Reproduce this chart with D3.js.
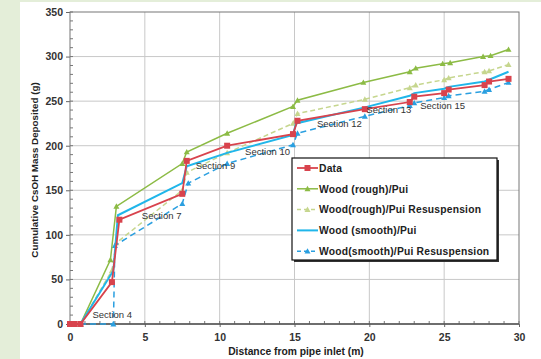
<!DOCTYPE html>
<html><head><meta charset="utf-8">
<script src="https://cdn.jsdelivr.net/npm/d3@7"></script>
<style>
html,body{margin:0;padding:0;background:#e4eed9;}
svg{display:block;}
text{font-family:"Liberation Sans",Arial,sans-serif;}
</style></head>
<body>
<svg id="c" width="541" height="359"></svg>
<script>
// ---- data ----
const distData   = [0, 0.3, 0.7, 2.8, 3.3, 7.5, 7.8, 10.5, 14.9, 15.2, 19.7, 22.7, 23.0, 25.0, 25.3, 27.7, 28.0, 29.3];
const massData   = [0, 0, 0, 47, 117, 146, 183, 200, 213, 228, 241, 249, 255, 259, 263, 268, 272, 275];
const distRough  = [0, 0.3, 0.7, 2.7, 3.1, 7.5, 7.8, 10.5, 14.9, 15.2, 19.6, 22.7, 23.1, 24.9, 25.4, 27.6, 28.1, 29.3];
const massRough  = [0, 0, 0, 72, 132, 180, 193, 214, 244, 251, 271, 283, 287, 292, 293, 300, 301, 308];
const distRoughR = [0, 0.3, 0.7, 2.8, 3.1, 7.5, 7.8, 10.5, 14.9, 15.2, 19.7, 22.7, 23.1, 25.0, 25.3, 27.7, 28.0, 29.3];
const massRoughR = [0, 0, 0, 60, 91, 150, 170, 192, 225, 236, 252, 265, 268, 274, 276, 283, 284, 291];
const distSmooth = [0, 0.3, 0.7, 2.9, 3.2, 7.5, 7.8, 10.5, 14.9, 15.1, 19.7, 22.7, 23.0, 25.0, 25.3, 27.7, 28.0, 29.3];
const massSmooth = [0, 0, 0, 60, 122, 158, 177, 192, 212, 225, 243, 256, 259, 264, 266, 272, 274, 283];
const distSmoothR= [0, 0.3, 0.7, 2.9, 3.0, 7.5, 7.9, 10.5, 14.9, 15.2, 19.7, 22.7, 23.0, 25.0, 25.3, 27.7, 28.0, 29.3];
const massSmoothR= [0, 0, 0, 0, 88, 135, 158, 180, 201, 214, 233, 245, 248, 254, 256, 261, 263, 271];
const seriesNames = ["Data", "Wood (rough)/Pui", "Wood(rough)/Pui Resuspension", "Wood (smooth)/Pui", "Wood(smooth)/Pui Resuspension"];
const sectionLabels = ["Section 4", "Section 7", "Section 9", "Section 10", "Section 12", "Section 13", "Section 15"];
const sectionX = [1.5, 4.8, 8.4, 11.7, 16.5, 19.8, 23.4];
const sectionY = [7, 118, 174, 190, 221, 237, 241];
const xTicks = [0, 5, 10, 15, 20, 25, 30];
const yTicks = [0, 50, 100, 150, 200, 250, 300, 350];

const svg = d3.select("#c");
svg.append("rect").attr("x",20).attr("y",2).attr("width",521).attr("height",357).attr("fill","#fff");

const L=70, R=519, T=12, B=324;
const x = d3.scaleLinear().domain([0,30]).range([L,R]);
const y = d3.scaleLinear().domain([0,350]).range([B,T]);

// grid
const g = svg.append("g");
g.selectAll(".gx").data(xTicks.slice(1,-1)).join("line")
  .attr("x1",d=>x(d)).attr("x2",d=>x(d)).attr("y1",T).attr("y2",B)
  .attr("stroke","#c8c8c8").attr("stroke-width",1);
g.selectAll(".gy").data(yTicks.slice(1,-1)).join("line")
  .attr("x1",L).attr("x2",R).attr("y1",d=>y(d)).attr("y2",d=>y(d))
  .attr("stroke","#c8c8c8").attr("stroke-width",1);

// minor ticks
svg.append("g").selectAll("line").data(d3.range(0,351,10)).join("line")
  .attr("x1",L).attr("x2",L+3).attr("y1",d=>y(d)).attr("y2",d=>y(d)).attr("stroke","#777");
svg.append("g").selectAll("line").data(d3.range(0,31,1)).join("line")
  .attr("x1",d=>x(d)).attr("x2",d=>x(d)).attr("y1",B).attr("y2",B-3).attr("stroke","#777");

// axes
const yAxis = svg.append("g").attr("transform",`translate(${L},0)`)
  .call(d3.axisLeft(y).tickValues(yTicks).tickSize(4).tickPadding(3));
const xAxis = svg.append("g").attr("transform",`translate(0,${B})`)
  .call(d3.axisBottom(x).tickValues(xTicks).tickSize(3).tickPadding(7));
[yAxis,xAxis].forEach(a=>{
  a.select(".domain").remove();
  a.selectAll("line").attr("stroke","#666");
  a.selectAll("text").attr("font-family","Liberation Sans, Arial, sans-serif")
   .attr("font-weight","bold").attr("font-size",10.5).attr("fill","#333");
});
// frame
svg.append("rect").attr("x",L).attr("y",T).attr("width",R-L).attr("height",B-T)
  .attr("fill","none").attr("stroke","#777").attr("stroke-width",1);
svg.append("line").attr("x1",L).attr("x2",R).attr("y1",B).attr("y2",B).attr("stroke","#555").attr("stroke-width",1.5);

// axis titles
svg.append("text").attr("x",296).attr("y",355).attr("text-anchor","middle")
  .attr("font-weight","bold").attr("font-size",10.3).attr("fill","#222")
  .text("Distance from pipe inlet (m)");
svg.append("text").attr("transform","translate(38,170) rotate(-90)").attr("text-anchor","middle")
  .attr("font-weight","bold").attr("font-size",9.8).attr("fill","#222")
  .text("Cumulative CsOH Mass Deposited (g)");

// series
const zip = (xs,ys)=>xs.map((d,i)=>[d,ys[i]]);
const series = [
  {name:seriesNames[2], pts:zip(distRoughR,massRoughR), color:"#c6d68e", w:1.5, dash:"5,3", marker:"tri", ms:3},
  {name:seriesNames[4], pts:zip(distSmoothR,massSmoothR), color:"#2a9fe0", w:1.5, dash:"6,4", marker:"tri", ms:3},
  {name:seriesNames[1], pts:zip(distRough,massRough), color:"#8cbb45", w:1.5, dash:null, marker:"tri", ms:3},
  {name:seriesNames[3], pts:zip(distSmooth,massSmooth), color:"#20b6ea", w:2, dash:null, marker:"none", ms:0},
  {name:seriesNames[0], pts:zip(distData,massData), color:"#d8434d", w:1.8, dash:null, marker:"sq", ms:3},
];
const line = d3.line().x(d=>x(d[0])).y(d=>y(d[1]));
function drawMarker(sel, kind, cx, cy, s, color){
  if(kind==="sq") sel.append("rect").attr("x",cx-s).attr("y",cy-s).attr("width",2*s).attr("height",2*s).attr("fill",color);
  else if(kind==="tri") sel.append("path").attr("d",`M${cx-s},${cy+s*0.8}L${cx+s},${cy+s*0.8}L${cx},${cy-s}Z`).attr("fill",color);
}
series.forEach(s=>{
  const p = svg.append("path").datum(s.pts).attr("d",line).attr("fill","none")
    .attr("stroke",s.color).attr("stroke-width",s.w);
  if(s.dash) p.attr("stroke-dasharray",s.dash);
  const mg = svg.append("g");
  s.pts.forEach(d=>drawMarker(mg,s.marker,x(d[0]),y(d[1]),s.ms,s.color));
});

// section labels
svg.append("g").selectAll("text").data(sectionLabels).join("text")
  .attr("x",(d,i)=>x(sectionX[i])).attr("y",(d,i)=>y(sectionY[i]))
  .attr("font-size",9.5).attr("fill","#333").text(d=>d);

// legend
const lg = svg.append("g");
lg.append("rect").attr("x",294).attr("y",160).attr("width",205).attr("height",102).attr("fill","#333");
lg.append("rect").attr("x",292).attr("y",158).attr("width",205).attr("height",102).attr("fill","#fff").attr("stroke","#111").attr("stroke-width",1.2);
const legOrder = [series[4],series[2],series[0],series[3],series[1]];
legOrder.forEach((s,i)=>{
  const yy = 168 + i*20.8;
  const l = lg.append("line").attr("x1",297).attr("x2",318).attr("y1",yy).attr("y2",yy)
    .attr("stroke",s.color).attr("stroke-width",s.w);
  if(s.dash) l.attr("stroke-dasharray","4,3");
  drawMarker(lg,s.marker,307.5,yy,s.ms,s.color);
  lg.append("text").attr("x",319).attr("y",yy+3.7).attr("font-weight","bold")
    .attr("font-size",10.3).attr("letter-spacing",0.2).attr("fill","#222").text(s.name);
});
</script>
</body></html>
